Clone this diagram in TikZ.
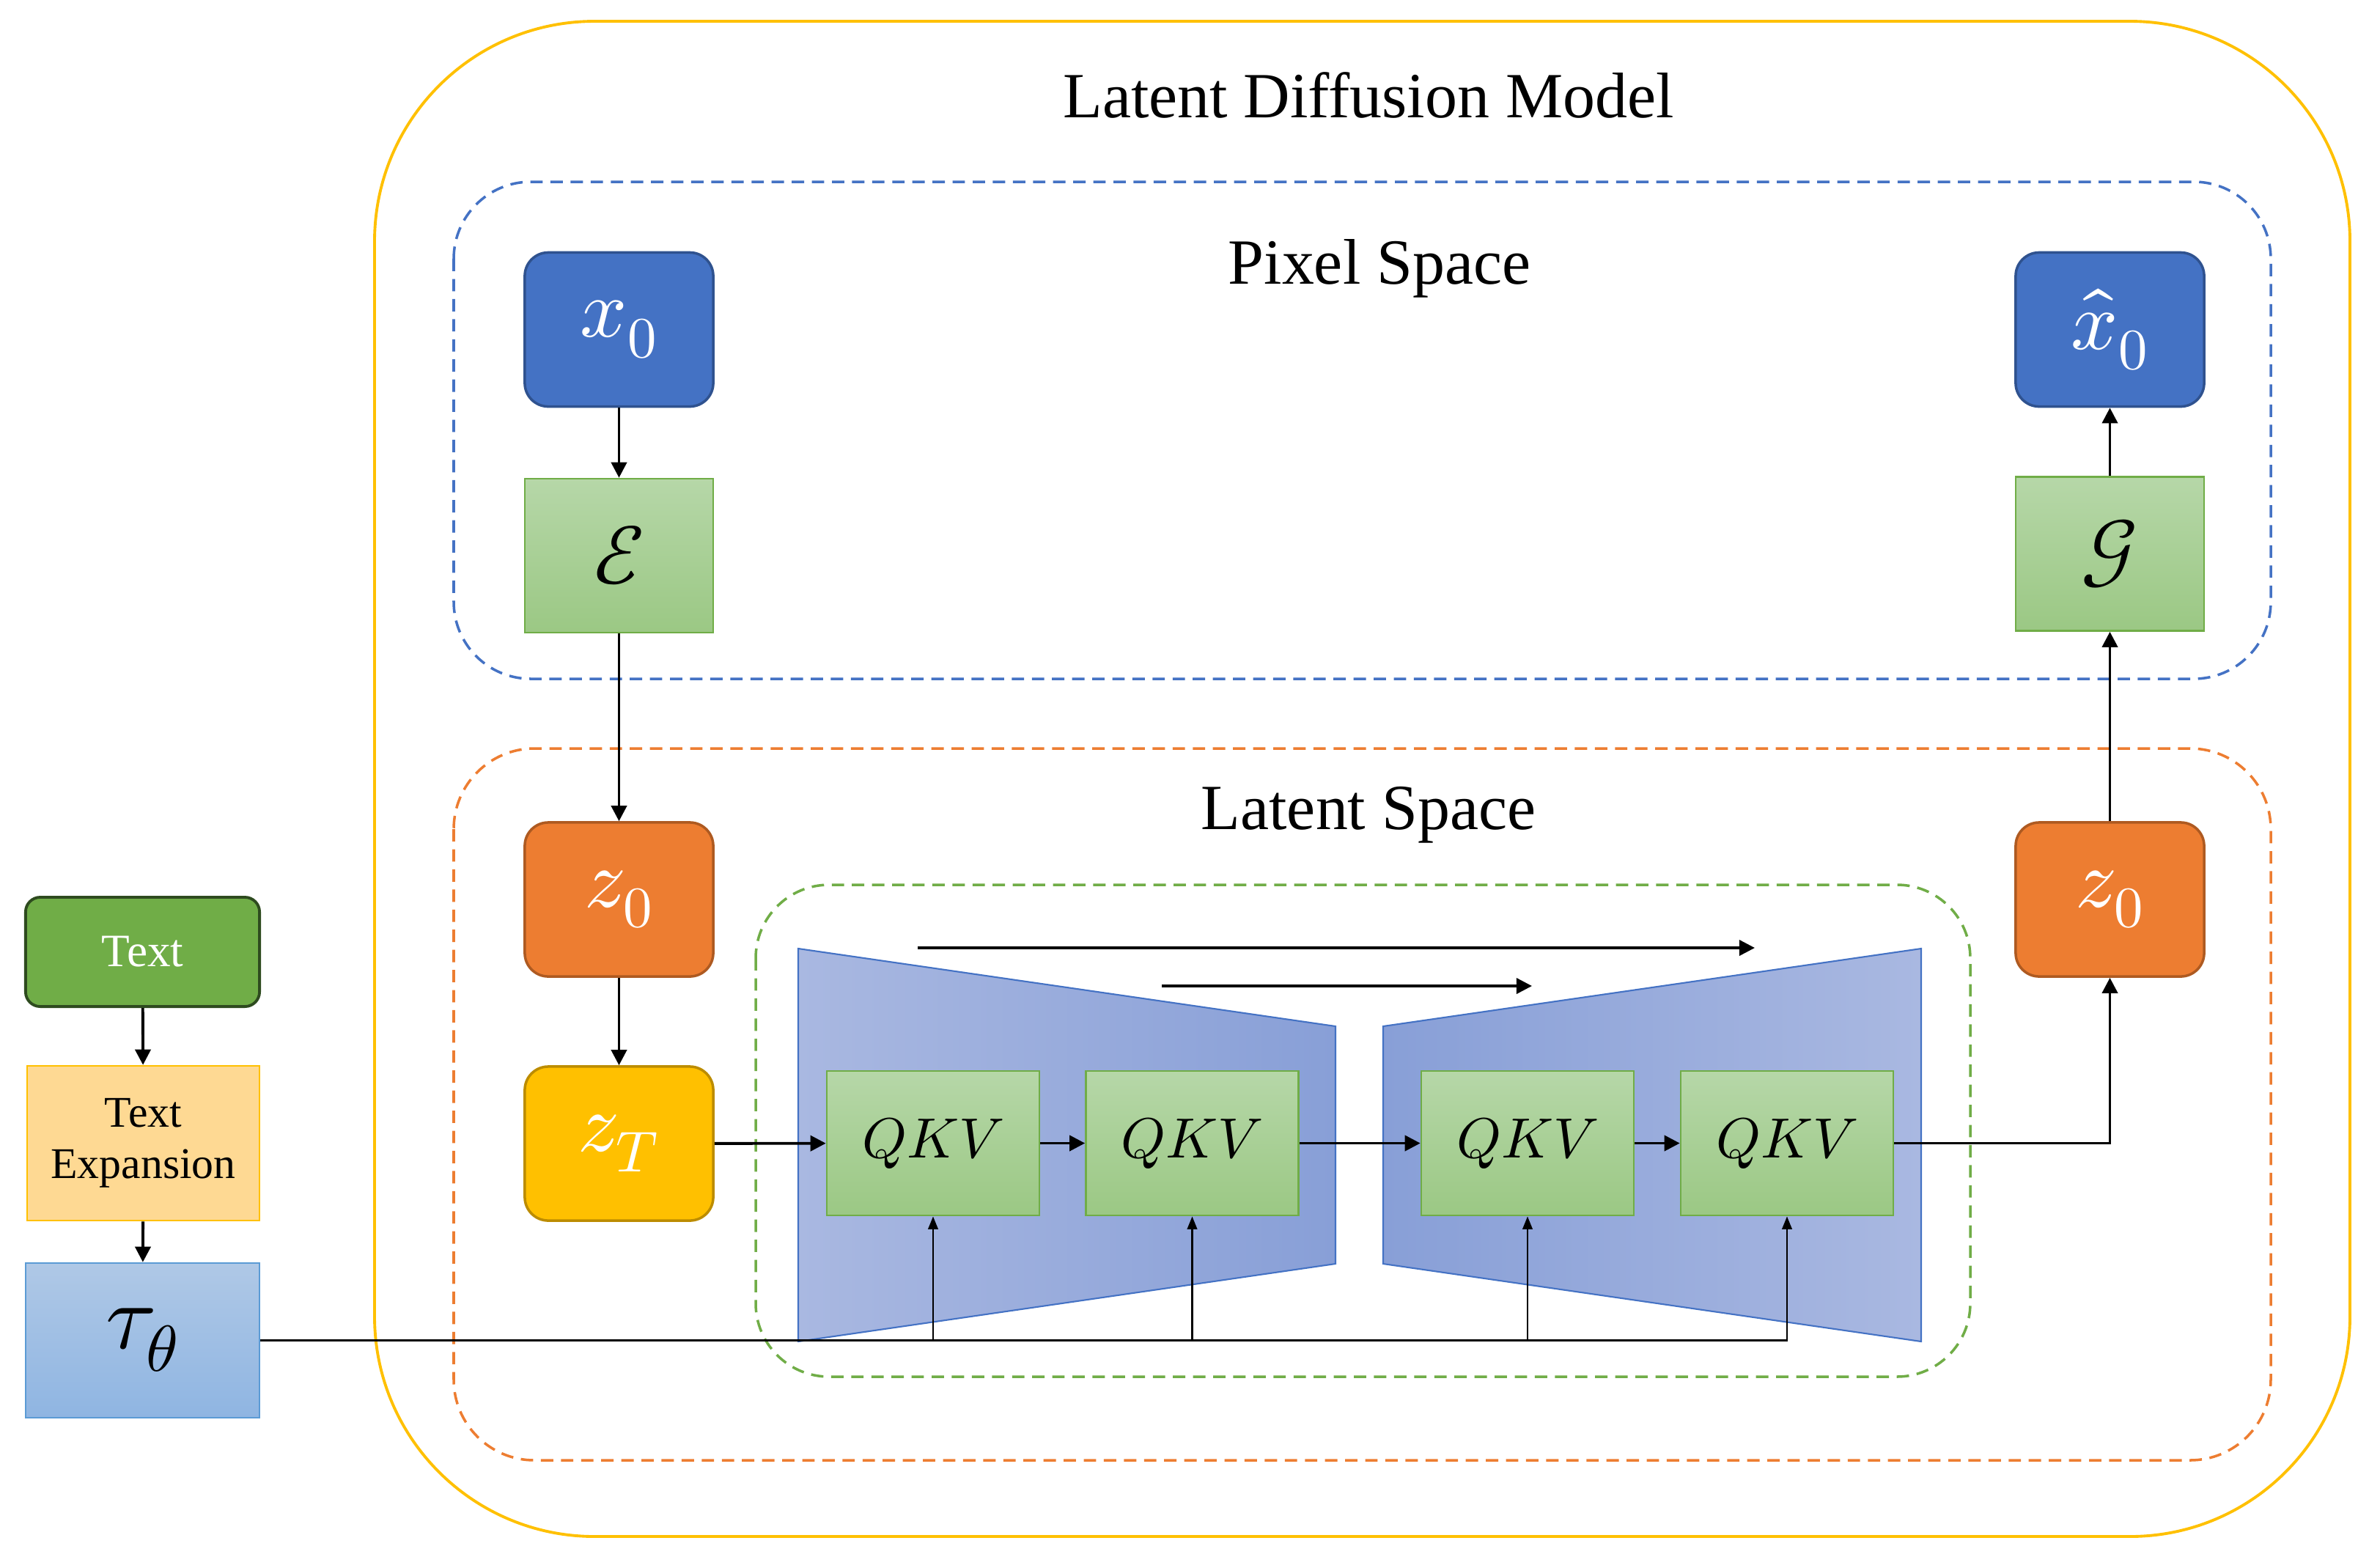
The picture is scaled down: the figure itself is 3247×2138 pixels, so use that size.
\documentclass[tikz,border=0pt]{standalone}
\usepackage{fontspec}
\usepackage{unicode-math}
\setmainfont{Liberation Serif}
\setmathfont{Latin Modern Math}
\usetikzlibrary{arrows.meta,calc}
\definecolor{ublue}{HTML}{4472C4}
\definecolor{ubluedk}{HTML}{2F528F}
\definecolor{uorange}{HTML}{ED7D31}
\definecolor{uorangedk}{HTML}{AE5A21}
\definecolor{ugreen}{HTML}{70AD47}
\definecolor{ugreendk}{HTML}{2E4B1F}
\definecolor{uyellow}{HTML}{FFC000}
\definecolor{uyellowdk}{HTML}{BC8C00}
\definecolor{gtop}{HTML}{B6D7A8}
\definecolor{gbot}{HTML}{9BC884}
\definecolor{btop}{HTML}{AFC8E6}
\definecolor{bbot}{HTML}{8FB5E2}
\definecolor{bfr}{HTML}{5B9BD5}
\definecolor{tlight}{HTML}{A9B8E1}
\definecolor{tdark}{HTML}{889FD7}
\definecolor{texp}{HTML}{FED993}
\tikzset{
  rbox/.style={rounded corners=0.32cm, minimum width=2.57cm, minimum height=2.1cm, line width=1pt, inner sep=0pt, text=white, font=\fontsize{32}{38}\selectfont},
  gbox/.style={draw=ugreen, line width=0.7pt, top color=gtop, bottom color=gbot, minimum width=2.57cm, minimum height=2.1cm, inner sep=0pt, font=\fontsize{32}{38}\selectfont},
  qkvbox/.style={draw=ugreen, line width=0.7pt, top color=gtop, bottom color=gbot, minimum width=2.9cm, minimum height=1.97cm, inner sep=0pt, font=\fontsize{22}{26}\selectfont},
  region/.style={line width=1pt, dash pattern=on 4.8pt off 3pt},
  arr/.style={-{Triangle[length=6pt,width=6pt]}, line width=1.1pt},
  thinarr/.style={-{Triangle[length=5pt,width=3.8pt]}, line width=0.8pt},
  ttl/.style={font=\fontsize{25}{30}\selectfont},
  trap/.style={draw=ublue, line width=0.6pt}
}
\begin{document}
\begin{tikzpicture}[x=0.01cm,y=-0.01cm]
\useasboundingbox (0,0) rectangle (3247,2138);
% regions
\draw[uyellow, line width=1.1pt, rounded corners=3cm] (511,29) rectangle (3206,2096);
\draw[region, ublue, rounded corners=1.05cm] (619,248) rectangle (3098,926);
\draw[region, uorange, rounded corners=1.1cm] (619,1021) rectangle (3098,1992);
\draw[region, ugreen, rounded corners=1cm] (1031,1207) rectangle (2688,1878);
% titles
\node[ttl] (title) at (1867,130) {Latent Diffusion Model};
\node[ttl] (pixel) at (1882,366) {Pixel Space};
\node[ttl] (latent) at (1867,1112) {Latent Space};
% trapezoids
\draw[trap, left color=tlight, right color=tdark] (1089,1294) -- (1822,1400) -- (1822,1724) -- (1089,1830) -- cycle;
\draw[trap, left color=tdark, right color=tlight] (1887,1400) -- (2621,1294) -- (2621,1830) -- (1887,1724) -- cycle;
% boxes
\node[rbox, fill=ublue, draw=ubluedk] (x0) at (844.5,449.5) {$x_0$};
\node[gbox] (enc) at (844.5,758) {$\mathcal{E}$};
\node[rbox, fill=uorange, draw=uorangedk] (z0l) at (844.5,1227) {$z_0$};
\node[rbox, fill=uyellow, draw=uyellowdk] (zt) at (844.5,1560) {$z_T$};
\node[rbox, fill=ublue, draw=ubluedk] (xh) at (2878.5,449.5) {$\hat{x}_0$};
\node[gbox] (dec) at (2878.5,755.5) {$\mathcal{G}$};
\node[rbox, fill=uorange, draw=uorangedk] (z0r) at (2878.5,1227) {$z_0$};
\node[qkvbox] (q1) at (1273,1559.5) {$QKV$};
\node[qkvbox] (q2) at (1626.5,1559.5) {$QKV$};
\node[qkvbox] (q3) at (2084,1559.5) {$QKV$};
\node[qkvbox] (q4) at (2438,1559.5) {$QKV$};
\node[rounded corners=0.2cm, fill=ugreen, draw=ugreendk, line width=1.1pt, minimum width=3.19cm, minimum height=1.49cm, text=white, font=\fontsize{18}{22}\selectfont] (text) at (194.5,1298.5) {Text};
\node[fill=texp, draw=uyellow, line width=0.7pt, minimum width=3.17cm, minimum height=2.11cm, align=center, font=\fontsize{17}{20}\selectfont] (texp) at (195.5,1559.5) {Text\\Expansion};
\node[draw=bfr, line width=0.7pt, top color=btop, bottom color=bbot, minimum width=3.19cm, minimum height=2.11cm, inner sep=0pt, font=\fontsize{36}{42}\selectfont] (tau) at (194.5,1828.5) {$\tau_\theta$};
% skip connections
\coordinate (s1a) at (1252,1293);
\coordinate (s1b) at (2394,1293);
\coordinate (s2a) at (1585,1345);
\coordinate (s2b) at (2090,1345);
\draw[arr, line width=1pt] (s1a) -- (s1b);
\draw[arr, line width=1pt] (s2a) -- (s2b);
% connectors
\draw[arr] (x0) -- (enc);
\draw[arr] (enc) -- (z0l);
\draw[arr] (z0l) -- (zt);
\draw[arr] (zt) -- (q1);
\draw[arr] (q1) -- (q2);
\draw[arr] (q2) -- (q3);
\draw[arr] (q3) -- (q4);
\draw[arr] (q4.east) -| (z0r.south);
\draw[arr] (z0r) -- (dec);
\draw[arr] (dec) -- (xh);
\draw[arr] (text) -- (texp);
\draw[arr] (texp) -- (tau);
% conditioning
\draw[thinarr] (tau.east) -- (tau.east -| q4.south) -- (q4.south);
\draw[thinarr] (tau.east -| q1.south) -- (q1.south);
\draw[thinarr] (tau.east -| q2.south) -- (q2.south);
\draw[thinarr] (tau.east -| q3.south) -- (q3.south);
\end{tikzpicture}
\end{document}
